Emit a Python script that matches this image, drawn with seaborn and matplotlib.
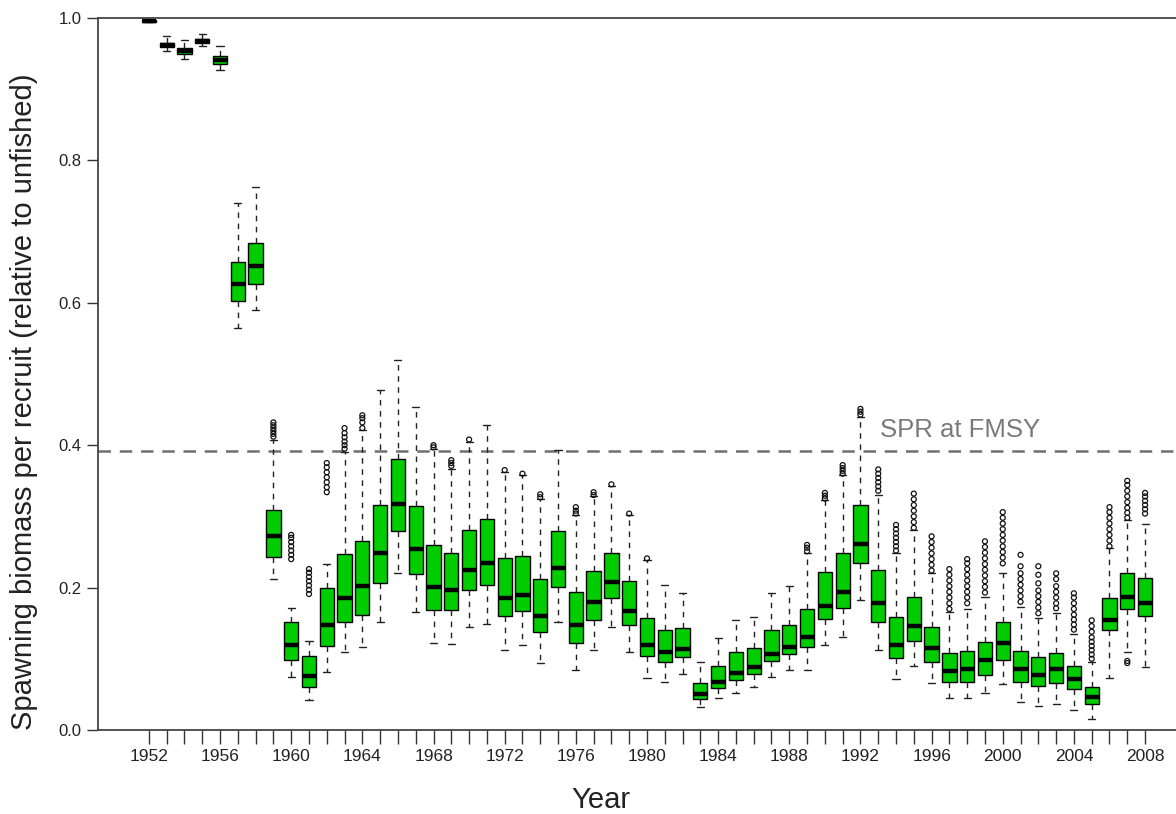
import numpy as np
import pandas as pd
import matplotlib
matplotlib.use("Agg")
import matplotlib.pyplot as plt
from matplotlib import font_manager
import seaborn as sns

years = list(range(1952, 2009))
whisker_low = [0.994, 0.953, 0.942, 0.960, 0.927, 0.565, 0.590, 0.212, 0.075, 0.042,
               0.082, 0.109, 0.116, 0.152, 0.221, 0.166, 0.122, 0.121, 0.145, 0.149,
               0.112, 0.119, 0.094, 0.151, 0.084, 0.113, 0.145, 0.109, 0.073, 0.067,
               0.079, 0.032, 0.045, 0.052, 0.060, 0.075, 0.084, 0.084, 0.119, 0.131,
               0.183, 0.112, 0.072, 0.090, 0.066, 0.045, 0.045, 0.052, 0.065, 0.040,
               0.034, 0.037, 0.028, 0.015, 0.073, 0.110, 0.088]
q1 = [0.995, 0.959, 0.949, 0.965, 0.935, 0.602, 0.626, 0.243, 0.099, 0.060,
      0.118, 0.151, 0.162, 0.207, 0.280, 0.219, 0.169, 0.169, 0.197, 0.204,
      0.160, 0.167, 0.137, 0.201, 0.122, 0.154, 0.185, 0.147, 0.104, 0.095,
      0.103, 0.044, 0.059, 0.070, 0.079, 0.097, 0.107, 0.116, 0.156, 0.172,
      0.234, 0.151, 0.101, 0.125, 0.095, 0.067, 0.068, 0.077, 0.098, 0.068,
      0.062, 0.066, 0.058, 0.037, 0.140, 0.170, 0.160]
median = [0.996, 0.962, 0.954, 0.968, 0.941, 0.627, 0.652, 0.272, 0.119, 0.076,
          0.148, 0.186, 0.202, 0.248, 0.317, 0.254, 0.201, 0.196, 0.225, 0.235,
          0.185, 0.190, 0.160, 0.227, 0.147, 0.180, 0.208, 0.167, 0.120, 0.109,
          0.114, 0.050, 0.067, 0.080, 0.088, 0.107, 0.117, 0.130, 0.174, 0.194,
          0.261, 0.178, 0.119, 0.146, 0.115, 0.083, 0.086, 0.099, 0.122, 0.086,
          0.077, 0.085, 0.072, 0.047, 0.155, 0.187, 0.179]
q3 = [0.997, 0.965, 0.958, 0.970, 0.947, 0.658, 0.684, 0.309, 0.151, 0.104,
      0.199, 0.247, 0.265, 0.316, 0.380, 0.314, 0.260, 0.248, 0.281, 0.297,
      0.241, 0.244, 0.212, 0.280, 0.194, 0.224, 0.249, 0.209, 0.158, 0.141,
      0.143, 0.066, 0.090, 0.109, 0.115, 0.140, 0.148, 0.170, 0.222, 0.248,
      0.316, 0.225, 0.159, 0.187, 0.145, 0.108, 0.111, 0.124, 0.152, 0.111,
      0.102, 0.108, 0.090, 0.061, 0.185, 0.220, 0.213]
whisker_high = [0.998, 0.975, 0.969, 0.978, 0.961, 0.740, 0.762, 0.408, 0.171, 0.125,
                0.233, 0.391, 0.421, 0.478, 0.519, 0.454, 0.394, 0.367, 0.405, 0.429,
                0.363, 0.358, 0.325, 0.393, 0.302, 0.328, 0.342, 0.302, 0.239, 0.203,
                0.193, 0.096, 0.129, 0.155, 0.159, 0.193, 0.202, 0.248, 0.323, 0.358,
                0.439, 0.330, 0.248, 0.281, 0.220, 0.166, 0.170, 0.187, 0.221, 0.173,
                0.158, 0.164, 0.135, 0.095, 0.255, 0.295, 0.290]

outliers = {
    1959: [0.412, 0.416, 0.420, 0.424, 0.428, 0.432],
    1960: [0.240, 0.246, 0.252, 0.258, 0.264, 0.270, 0.274],
    1961: [0.191, 0.197, 0.203, 0.209, 0.215, 0.221, 0.226],
    1962: [0.334, 0.341, 0.348, 0.355, 0.362, 0.369, 0.375],
    1963: [0.395, 0.400, 0.405, 0.411, 0.417, 0.424],
    1964: [0.424, 0.432, 0.438, 0.442],
    1968: [0.397, 0.400],
    1969: [0.371, 0.375, 0.379],
    1970: [0.408],
    1972: [0.365],
    1973: [0.360],
    1974: [0.327, 0.331],
    1976: [0.304, 0.308, 0.313],
    1977: [0.330, 0.334],
    1978: [0.345],
    1979: [0.304],
    1980: [0.241],
    1989: [0.251, 0.256, 0.260],
    1990: [0.325, 0.329, 0.333],
    1991: [0.360, 0.364, 0.368, 0.372],
    1992: [0.443, 0.447, 0.451],
    1993: [0.336, 0.342, 0.348, 0.354, 0.360, 0.366],
    1994: [0.252, 0.258, 0.264, 0.270, 0.276, 0.282, 0.288],
    1995: [0.284, 0.292, 0.300, 0.308, 0.316, 0.324, 0.332],
    1996: [0.224, 0.232, 0.240, 0.248, 0.256, 0.264, 0.272],
    1997: [0.170, 0.178, 0.186, 0.194, 0.202, 0.210, 0.218, 0.226],
    1998: [0.178, 0.186, 0.194, 0.202, 0.210, 0.218, 0.226, 0.234, 0.240],
    1999: [0.193, 0.201, 0.209, 0.217, 0.225, 0.233, 0.241, 0.249, 0.257, 0.265],
    2000: [0.234, 0.242, 0.250, 0.258, 0.266, 0.274, 0.282, 0.290, 0.298, 0.306],
    2001: [0.180, 0.188, 0.196, 0.204, 0.212, 0.220, 0.230, 0.246],
    2002: [0.164, 0.172, 0.180, 0.188, 0.196, 0.206, 0.218, 0.230],
    2003: [0.171, 0.178, 0.186, 0.194, 0.202, 0.212, 0.220],
    2004: [0.141, 0.148, 0.155, 0.162, 0.170, 0.178, 0.186, 0.192],
    2005: [0.100, 0.106, 0.112, 0.118, 0.124, 0.130, 0.138, 0.146, 0.154],
    2006: [0.258, 0.266, 0.274, 0.282, 0.290, 0.298, 0.306, 0.313],
    2007: [0.298, 0.305, 0.312, 0.320, 0.328, 0.336, 0.344, 0.350, 0.094, 0.097],
    2008: [0.304, 0.310, 0.316, 0.322, 0.328, 0.333],
}

spr_fmsy = 0.392
tick_label_years = list(range(1952, 2009, 4))

# ---- fonts ----
sns.set_style("white")
def has_font(name):
    try:
        font_manager.findfont(name, fallback_to_default=False)
        return True
    except Exception:
        return False

base_font = "Liberation Sans" if has_font("Liberation Sans") else "DejaVu Sans"
narrow_font = "Liberation Sans Narrow" if has_font("Liberation Sans Narrow") else base_font
plt.rcParams["font.family"] = [base_font, "DejaVu Sans"]

# ---- data for the boxes (five summary values per year) ----
rows = []
for i, y in enumerate(years):
    for v in (whisker_low[i], q1[i], median[i], q3[i], whisker_high[i]):
        rows.append({"Year": y, "value": v})
df = pd.DataFrame(rows)

orows = []
for y, vals in outliers.items():
    for v in vals:
        orows.append({"Year": y, "value": v})
odf = pd.DataFrame(orows)

fig = plt.figure(figsize=(11.76, 8.14), dpi=100)
ax = fig.add_axes([98 / 1176, 1 - 730 / 814, 1 - 98 / 1176 + 0.01, (730 - 18) / 814])

line_col = "#222222"
sns.boxplot(data=df, x="Year", y="value", order=years, ax=ax,
            color="#00CC00", saturation=1, width=0.8, whis=(0, 100),
            linecolor="black", linewidth=1.0, showfliers=False,
            medianprops=dict(color="black", linewidth=3.2, solid_capstyle="butt"),
            whiskerprops=dict(linestyle=(0, (4, 4)), linewidth=1.0, color=line_col),
            capprops=dict(linewidth=1.0, color=line_col))

sns.stripplot(data=odf, x="Year", y="value", order=years, ax=ax, jitter=False,
              marker="o", size=3.6, color="black", facecolor="none",
              linewidth=0.9, edgecolor="#111111")

ax.axhline(spr_fmsy, color="#707070", linestyle=(0, (5, 3.5)), linewidth=1.8, zorder=0.5)
ax.text(years.index(1994) - 0.9, spr_fmsy + 0.012, "SPR at FMSY", color="#7a7a7a",
        fontsize=18.5, ha="left", va="bottom")

ax.set_ylim(0, 1.0)
ax.set_xlim(-2.86, 58.4)
ax.set_yticks([0.0, 0.2, 0.4, 0.6, 0.8, 1.0])
ax.set_yticklabels(["0.0", "0.2", "0.4", "0.6", "0.8", "1.0"], fontsize=12, color="#222222")
ax.set_xticks(range(len(years)))
ax.set_xticklabels([str(y) if y in tick_label_years else "" for y in years],
                   fontsize=12.5, color="#222222", family=[narrow_font, "DejaVu Sans"])
ax.tick_params(axis="x", direction="out", length=10, width=1.0, color="#333333", pad=4)
ax.tick_params(axis="y", direction="out", length=8, width=1.0, color="#333333", pad=4)
ax.tick_params(bottom=True, left=True)

for s in ["left", "bottom", "top"]:
    ax.spines[s].set_visible(True)
    ax.spines[s].set_color("#444444")
    ax.spines[s].set_linewidth(1.3)
ax.spines["right"].set_visible(False)

ax.set_xlabel("Year", fontsize=21, color="#222222", va="center")
ax.set_ylabel("Spawning biomass per recruit (relative to unfished)", fontsize=21,
              color="#222222", va="center")
ax.xaxis.set_label_coords((595 - 98) / (1176 - 98), -(800 - 730) / 712)
ax.yaxis.set_label_coords(-(98 - 25) / (1176 - 98), (730 - 402) / 712)

fig.savefig("out.png", dpi=100)
